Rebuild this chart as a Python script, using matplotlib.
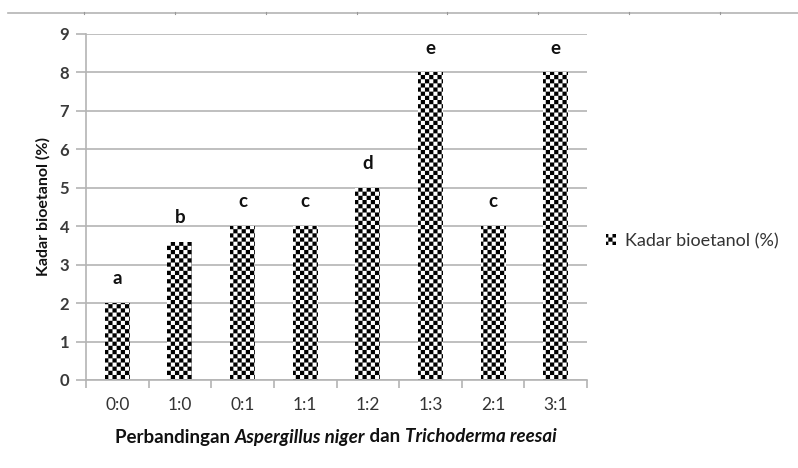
import warnings
import numpy as np
import matplotlib
matplotlib.use("Agg")
import matplotlib.pyplot as plt
import matplotlib.hatch as mhatch
from matplotlib.path import Path
from matplotlib.lines import Line2D

warnings.filterwarnings("ignore")

# ---- data ----
categories = ["0:0", "1:0", "0:1", "1:1", "1:2", "1:3", "2:1", "3:1"]
values = [2.0, 3.6, 4.0, 4.0, 5.0, 8.0, 4.0, 8.0]
letters = ["a", "b", "c", "c", "d", "e", "c", "e"]
yticks = list(range(0, 10))
series_name = "Kadar bioetanol (%)"
ylabel_text = "Kadar bioetanol (%)"
xlabel_parts = [("Perbandingan ", "normal"), ("Aspergillus niger", "italic"),
                (" dan ", "normal"), ("Trichoderma reesai", "italic")]


# ---- custom checkerboard hatch ----
class CheckerHatch(mhatch.HatchPatternBase):
    N = 24

    def __init__(self, hatch, density):
        n = hatch.count("C")
        if n:
            self.num_vertices = (self.N * self.N) // 2 * 5
        else:
            self.num_vertices = 0

    def set_vertices_and_codes(self, vertices, codes):
        s = 1.0 / self.N
        verts = []
        cds = []
        for i in range(self.N):
            for j in range(self.N):
                if (i + j) % 2 == 0:
                    x0, y0 = i * s, j * s
                    verts += [[x0, y0], [x0 + s, y0], [x0 + s, y0 + s], [x0, y0 + s], [x0, y0]]
                    cds += [Path.MOVETO, Path.LINETO, Path.LINETO, Path.LINETO, Path.CLOSEPOLY]
        vertices[:] = np.array(verts)
        codes[:] = np.array(cds)


mhatch._hatch_types.append(CheckerHatch)

plt.rcParams["font.family"] = ["Lato", "DejaVu Sans"]
plt.rcParams["hatch.linewidth"] = 0.05

W, H = 798, 468
fig = plt.figure(figsize=(W / 100, H / 100), dpi=100)
ax = fig.add_axes([86 / W, (H - 380) / H, (587 - 86) / W, (380 - 34) / H])

x = np.arange(len(categories))
bars = ax.bar(x, values, width=0.4, facecolor="white", edgecolor="black",
              linewidth=0, hatch="C", label=series_name, zorder=2)

for xi, v, l in zip(x, values, letters):
    ax.annotate(l, (xi, v), xytext=(0, 13.5), textcoords="offset points",
                ha="center", va="baseline", fontsize=13.5, fontweight="bold",
                color="#111111")

grid_c = "#b4b4b4"
ax.set_xlim(-0.5, len(categories) - 0.5)
ax.set_ylim(0, 9)
ax.set_yticks(yticks)
ax.set_yticklabels([str(t) for t in yticks], fontsize=12, fontweight="bold", color="#3a3a3a")
ax.yaxis.grid(True, color=grid_c, linewidth=1.2, zorder=0)
ax.set_axisbelow(True)
ax.set_xticks(x)
ax.set_xticklabels(categories, fontsize=12.5, color="#333333")
ax.set_xticks(np.arange(-0.5, len(categories), 1), minor=True)
ax.tick_params(axis="x", which="major", length=0, pad=12)
ax.tick_params(axis="x", which="minor", length=6, width=1.2, color=grid_c)
ax.tick_params(axis="y", length=7, width=1.2, color=grid_c, pad=5)

for s in ["top", "right"]:
    ax.spines[s].set_visible(False)
for s in ["left", "bottom"]:
    ax.spines[s].set_color(grid_c)
    ax.spines[s].set_linewidth(1.2)

fig.text(43 / W, 1 - 207 / H, ylabel_text, rotation=90, ha="center", va="center",
         fontsize=11.5, fontweight="bold", color="#111111")

# x label built from pieces (regular + italic), fitted to span 115..555 px
renderer = fig.canvas.get_renderer()
base_size = 11.0
pieces = []
for txt, style in xlabel_parts:
    t = fig.text(0, 1 - 437 / H, txt, ha="left", va="center", fontsize=base_size,
                 fontweight="bold", fontstyle=style, color="#111111")
    pieces.append(t)
fig.canvas.draw()


def piece_width(t):
    s = t.get_text()
    probe = fig.text(0, 0, "|" + s + "|", fontsize=t.get_fontsize(), fontweight="bold",
                     fontstyle=t.get_fontstyle())
    bar_probe = fig.text(0, 0, "||", fontsize=t.get_fontsize(), fontweight="bold",
                         fontstyle=t.get_fontstyle())
    w = probe.get_window_extent(renderer).width - bar_probe.get_window_extent(renderer).width
    probe.remove()
    bar_probe.remove()
    return w


total = sum(piece_width(t) for t in pieces)
scale = (555 - 115) / total
for t in pieces:
    t.set_fontsize(base_size * scale)
fig.canvas.draw()
widths = [piece_width(t) for t in pieces]
cur = 115.0
for t, w in zip(pieces, widths):
    t.set_x(cur / W)
    cur += w

leg = fig.legend(handles=[bars], labels=[series_name], loc="center left",
                 bbox_to_anchor=(602 / W, 1 - 241 / H), frameon=False,
                 handlelength=0.55, handleheight=0.55, handletextpad=0.5,
                 fontsize=13, labelcolor="#333333", borderaxespad=0, borderpad=0.2)

# top border line from the page
fig.add_artist(Line2D([8 / W, 1.0], [1 - 13 / H, 1 - 13 / H], color=grid_c, linewidth=1.2,
                      transform=fig.transFigure))
for tx in [84, 175, 266, 357, 447, 538, 629, 720]:
    fig.add_artist(Line2D([tx / W, tx / W], [1 - 13.5 / H, 1 - 12 / H], color="#999999",
                          linewidth=0.8, transform=fig.transFigure))

fig.savefig("out.png", dpi=100)
